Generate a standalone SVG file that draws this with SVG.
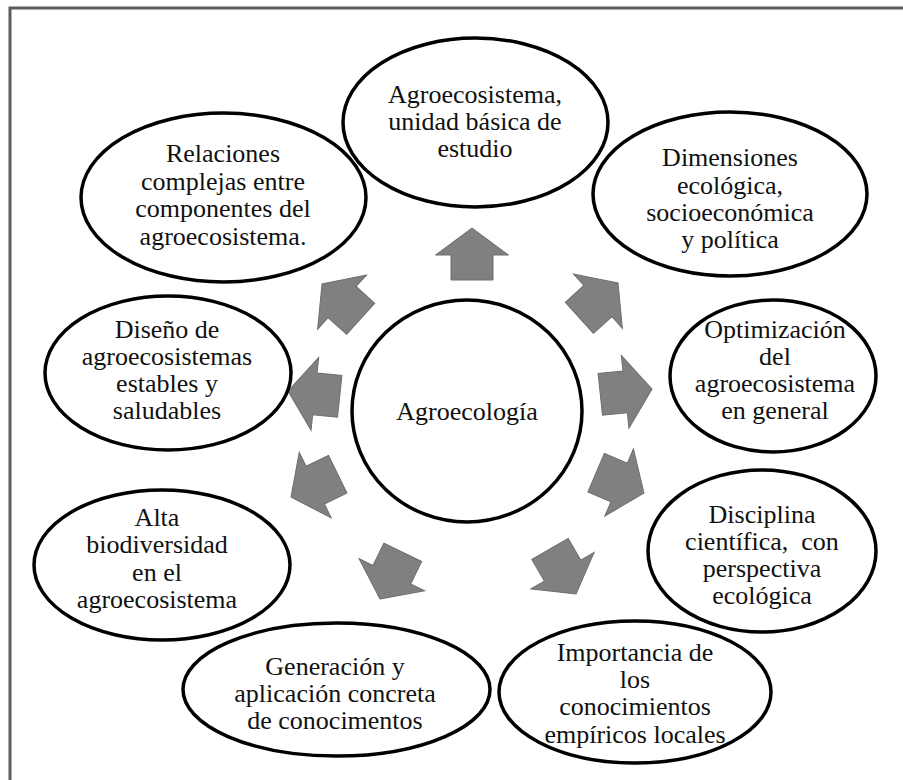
<svg xmlns="http://www.w3.org/2000/svg" width="903" height="780" viewBox="0 0 903 780">
<style>
.frame{fill:none;stroke:#5c5c5c;stroke-width:3}
.node ellipse{fill:#fff;stroke:#000;stroke-width:3.5}
.node text{font-family:"Liberation Serif","Times New Roman",serif;font-size:26px;fill:#111;text-anchor:middle}
.arrow{fill:#808080;stroke:#6e6e6e;stroke-width:1}
</style>
<defs>
<polygon id="arr" points="0,0 -27,-36.5 -27,-21 -52,-21 -52,21 -27,21 -27,36.5"/>
</defs>
<rect x="0" y="0" width="903" height="780" fill="#fff"/>
<rect class="frame" x="10" y="8" width="920" height="800"/>

<g id="connectors">
<use href="#arr" class="arrow" transform="translate(472,228) rotate(-90)"/>
<use href="#arr" class="arrow" transform="translate(618,283) rotate(-42)"/>
<use href="#arr" class="arrow" transform="translate(652,389) rotate(-6)"/>
<use href="#arr" class="arrow" transform="translate(644,493) rotate(23)"/>
<use href="#arr" class="arrow" transform="translate(576,594) rotate(60)"/>
<use href="#arr" class="arrow" transform="translate(380,599) rotate(116)"/>
<use href="#arr" class="arrow" transform="translate(291,497) rotate(154)"/>
<use href="#arr" class="arrow" transform="translate(288,391) rotate(186)"/>
<use href="#arr" class="arrow" transform="translate(322,284) rotate(222)"/>
</g>

<g id="center" class="node" font-family="Liberation Serif, serif">
<ellipse cx="467" cy="411" rx="115" ry="111"/>
<text x="467" y="420">Agroecología</text>
</g>

<g id="n-agroecosistema" class="node" font-family="Liberation Serif, serif">
<ellipse cx="475.5" cy="122.5" rx="132.5" ry="84.5"/>
<text x="475" y="103">Agroecosistema,</text>
<text x="475" y="130">unidad básica de</text>
<text x="475" y="157">estudio</text>
</g>

<g id="n-relaciones" class="node" font-family="Liberation Serif, serif">
<ellipse cx="223.5" cy="197.5" rx="142.5" ry="84.5"/>
<text x="223" y="162">Relaciones</text>
<text x="223" y="190">complejas entre</text>
<text x="223" y="217">componentes del</text>
<text x="223" y="245">agroecosistema.</text>
</g>

<g id="n-dimensiones" class="node" font-family="Liberation Serif, serif">
<ellipse cx="730" cy="194" rx="137" ry="82"/>
<text x="730" y="166">Dimensiones</text>
<text x="730" y="194">ecológica,</text>
<text x="730" y="221">socioeconómica</text>
<text x="730" y="248">y política</text>
</g>

<g id="n-optimizacion" class="node" font-family="Liberation Serif, serif">
<ellipse cx="773" cy="376" rx="103" ry="76"/>
<text x="775" y="338">Optimización</text>
<text x="775" y="365">del</text>
<text x="775" y="392">agroecosistema</text>
<text x="775" y="419">en general</text>
</g>

<g id="n-disciplina" class="node" font-family="Liberation Serif, serif">
<ellipse cx="762" cy="551" rx="114" ry="81"/>
<text x="762" y="523">Disciplina</text>
<text x="762" y="550">científica,&#160; con</text>
<text x="762" y="577">perspectiva</text>
<text x="762" y="604">ecológica</text>
</g>

<g id="n-importancia" class="node" font-family="Liberation Serif, serif">
<ellipse cx="635" cy="692" rx="136" ry="71"/>
<text x="635" y="661">Importancia de</text>
<text x="635" y="688">los</text>
<text x="635" y="715">conocimientos</text>
<text x="635" y="743">empíricos locales</text>
</g>

<g id="n-generacion" class="node" font-family="Liberation Serif, serif">
<ellipse cx="336.5" cy="689.5" rx="153.5" ry="66.5"/>
<text x="335" y="675">Generación y</text>
<text x="335" y="702">aplicación concreta</text>
<text x="335" y="729">de conocimentos</text>
</g>

<g id="n-alta" class="node" font-family="Liberation Serif, serif">
<ellipse cx="162" cy="565" rx="128" ry="75"/>
<text x="157" y="526">Alta</text>
<text x="157" y="553">biodiversidad</text>
<text x="157" y="581">en el</text>
<text x="157" y="608">agroecosistema</text>
</g>

<g id="n-diseno" class="node" font-family="Liberation Serif, serif">
<ellipse cx="168" cy="373" rx="123" ry="77"/>
<text x="167" y="338">Diseño de</text>
<text x="167" y="365">agroecosistemas</text>
<text x="167" y="392">estables y</text>
<text x="167" y="419">saludables</text>
</g>
</svg>
